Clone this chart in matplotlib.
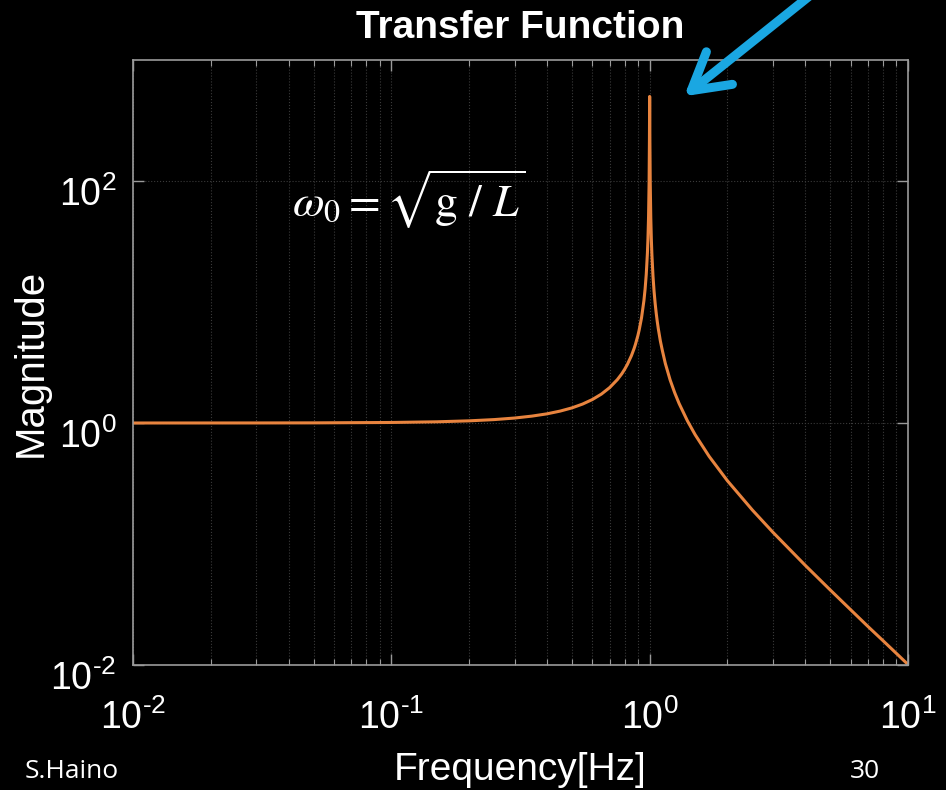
import math
import matplotlib
matplotlib.use("Agg")
import matplotlib.pyplot as plt
from matplotlib.patches import FancyArrowPatch
from matplotlib.ticker import FixedLocator, LogLocator, NullLocator, FuncFormatter
from matplotlib.transforms import ScaledTranslation

sans = "Liberation Sans"
plt.rcParams["mathtext.fontset"] = "custom"
plt.rcParams["mathtext.rm"] = sans
plt.rcParams["mathtext.it"] = sans + ":italic"
plt.rcParams["mathtext.bf"] = sans + ":bold"

# Pendulum transfer-function magnitude (frequency in Hz, magnitude)
freq = [0.01, 0.03, 0.05, 0.1, 0.15, 0.2, 0.25, 0.3, 0.35, 0.4, 0.45, 0.5,
        0.55, 0.6, 0.65, 0.7, 0.75, 0.78, 0.8, 0.82, 0.85, 0.87, 0.88, 0.9,
        0.91, 0.93, 0.95, 0.96, 0.97, 0.98, 0.985, 0.99, 0.995, 0.998, 0.999,
        1.0, 1.001, 1.002, 1.005, 1.01, 1.015, 1.02, 1.03, 1.04, 1.05, 1.06,
        1.07, 1.08, 1.1, 1.12, 1.15, 1.2, 1.25, 1.3, 1.4, 1.5, 1.7, 2.0, 2.5,
        3.0, 4.0, 5.0, 6.0, 7.0, 8.0, 10.0]
magnitude = [1.0, 1.001, 1.0025, 1.01, 1.023, 1.042, 1.067, 1.099, 1.14, 1.19,
             1.254, 1.333, 1.434, 1.563, 1.732, 1.961, 2.286, 2.551, 2.778,
             3.052, 3.604, 4.115, 4.433, 5.263, 5.82, 7.40, 10.26, 12.76, 16.92,
             25.2, 33.6, 50.0, 98.0, 223.0, 350.0, 500.0, 350.0, 222.0, 98.0,
             49.7, 33.1, 24.75, 16.42, 12.25, 9.76, 8.09, 6.90, 6.01, 4.76, 3.96,
             3.10, 2.27, 1.778, 1.449, 1.042, 0.80, 0.529, 0.333, 0.1905, 0.125,
             0.0667, 0.0417, 0.0286, 0.0208, 0.0159, 0.0101]

x_limits = [1e-2, 1e1]
y_limits = [1e-2, 1e3]
y_ticks = [1e-2, 1e0, 1e2]

W, H = 946, 790
fig = plt.figure(figsize=(W / 100, H / 100), dpi=100, facecolor="black")
ax = fig.add_axes([133 / W, 1 - 665 / H, (908 - 133) / W, (665 - 60) / H])
ax.set_facecolor("black")

ax.loglog(freq, magnitude, color="#E8843F", lw=2.2, solid_joinstyle="round")
ax.set_xlim(x_limits)
ax.set_ylim(y_limits)

ax.xaxis.set_major_locator(LogLocator(base=10, numticks=10))
ax.xaxis.set_minor_locator(LogLocator(base=10, subs=range(2, 10), numticks=20))
ax.yaxis.set_major_locator(FixedLocator(y_ticks))
ax.yaxis.set_minor_locator(NullLocator())


def decade(v, pos):
    e = int(round(math.log10(v)))
    return r"$10^{\text{%d}}$" % e


ax.xaxis.set_major_formatter(FuncFormatter(decade))
ax.yaxis.set_major_formatter(FuncFormatter(decade))

grid_col = "#3a3a3a"
ax.grid(True, which="major", axis="both", color=grid_col, lw=0.8, ls=":")
ax.grid(True, which="minor", axis="x", color=grid_col, lw=0.8, ls=":")

for s in ax.spines.values():
    s.set_color("#9a9a9a")
    s.set_linewidth(1.2)
ax.tick_params(which="both", direction="in", colors="#9a9a9a", top=True, right=True)
ax.tick_params(which="major", length=8, width=1.0, labelsize=27, labelcolor="white")
ax.tick_params(axis="x", which="major", pad=25)
ax.tick_params(axis="y", which="major", pad=12)
ax.tick_params(which="minor", length=4, width=0.8)

# exponent labels sit slightly below their tick, as in the slide style
shift_down = ScaledTranslation(0, -7 / 72, fig.dpi_scale_trans)
for lab in ax.get_yticklabels():
    lab.set_transform(lab.get_transform() + shift_down)

fig.text(0.5 * (133 + 908) / W, 1 - 28 / H, "Transfer Function", color="white",
         fontsize=28, fontweight="bold", family=sans, ha="center", va="center")
fig.text(0.5 * (133 + 908) / W, 1 - 770 / H, "Frequency[Hz]", color="white",
         fontsize=28, family=sans, ha="center", va="center")
fig.text(31 / W, 1 - 363 / H, "Magnitude", color="white", fontsize=29,
         family=sans, ha="center", va="center", rotation=90)

ax.text(0.205, 0.77, r"$\omega_0 = \sqrt{\mathrm{g}\ /\ L}$", transform=ax.transAxes,
        color="white", fontsize=33, math_fontfamily="stix", ha="left", va="center")

# Arrow pointing at the resonance
fig.patches.append(FancyArrowPatch(
    (812 / W, 1 + 6 / H), (682 / W, 1 - 98 / H), transform=fig.transFigure,
    arrowstyle="->,head_length=26,head_width=15", mutation_scale=1,
    color="#1AA7E2", lw=6.5, capstyle="round", joinstyle="round"))

fig.text(25 / W, 1 - 772 / H, "S.Haino", color="white", fontsize=19,
         family="Open Sans", va="center")
fig.text(850 / W, 1 - 772 / H, "30", color="white", fontsize=19,
         family="Open Sans", va="center")

fig.savefig("out.png", dpi=100, facecolor="black")
